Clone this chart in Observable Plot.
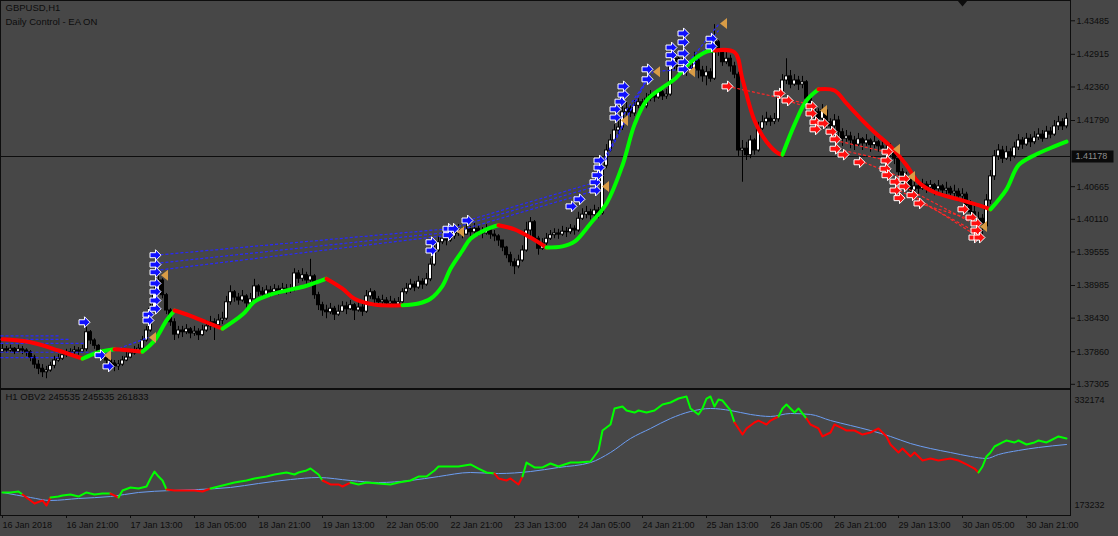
<!DOCTYPE html>
<html><head><meta charset="utf-8">
<script src="https://cdn.jsdelivr.net/npm/d3@7"></script>
<script src="https://cdn.jsdelivr.net/npm/@observablehq/plot@0.6"></script>
<style>
html,body{margin:0;padding:0;background:#474747;}
#wrap{width:1118px;height:536px;overflow:hidden;background:#474747;}
#wrap svg{display:block;}
</style></head><body><div id="wrap"></div>
<script>
// ---------- texts ----------
const symbolTitle = "GBPUSD,H1";
const eaTitle = "Daily Control - EA ON";
const obvTitle = "H1 OBV2 245535 245535 261833";
const obvMaxLabel = "332174";
const obvMinLabel = "173232";

// ---------- time axis ----------
const tickBars = [0,16,32,48,64,80,96,112,128,144,160,176,192,208,224,240,256];
const tickLabels = ["16 Jan 2018","16 Jan 21:00","17 Jan 13:00","18 Jan 05:00","18 Jan 21:00","19 Jan 13:00","22 Jan 05:00","22 Jan 21:00","23 Jan 13:00","24 Jan 05:00","24 Jan 21:00","25 Jan 13:00","26 Jan 05:00","26 Jan 21:00","29 Jan 13:00","30 Jan 05:00","30 Jan 21:00"];

// ---------- price axis ----------
const priceTicks = [1.43485,1.42915,1.42360,1.41790,1.40665,1.40110,1.39555,1.38985,1.38430,1.37860,1.37305];
const hLine = 1.41178;
const shiftBar = 240;

// ---------- candles (H1) ----------
const firstOpen = 1.3786;
const closes = [
1.3790,1.3788,1.3791,1.3786,1.3790,1.3788,1.3785,1.3776,1.3764,1.3757,
1.3751,1.3754,1.3762,1.3771,1.3774,1.3780,1.3783,1.3785,1.3788,1.3786,
1.3790,1.3819,1.3805,1.3796,1.3785,1.3778,1.3771,1.3766,1.3761,1.3764,
1.3771,1.3776,1.3783,1.3788,1.3791,1.3805,1.3822,1.3859,1.3887,1.3907,
1.3882,1.3856,1.3836,1.3815,1.3822,1.3819,1.3824,1.3817,1.3820,1.3814,
1.3822,1.3829,1.3836,1.3831,1.3839,1.3842,1.3870,1.3887,1.3878,1.3873,
1.3880,1.3868,1.3875,1.3897,1.3888,1.3883,1.3890,1.3887,1.3892,1.3888,
1.3893,1.3890,1.3892,1.3919,1.3910,1.3916,1.3907,1.3914,1.3882,1.3865,
1.3856,1.3853,1.3859,1.3849,1.3854,1.3863,1.3858,1.3865,1.3856,1.3861,
1.3854,1.3880,1.3887,1.3875,1.3870,1.3873,1.3868,1.3871,1.3866,1.3870,
1.3887,1.3893,1.3900,1.3895,1.3905,1.3900,1.3909,1.3934,1.3958,1.3972,
1.3978,1.3975,1.3982,1.3987,1.3992,1.3985,1.3994,1.3989,1.3995,1.3990,
1.3987,1.3992,1.3985,1.3982,1.3975,1.3963,1.3950,1.3938,1.3931,1.3941,
1.3958,1.3992,1.4006,1.3978,1.3961,1.3970,1.3978,1.3984,1.3987,1.3985,
1.3990,1.3989,1.3995,1.3992,1.4012,1.4019,1.4023,1.4018,1.4026,1.4021,
1.4102,1.4128,1.4145,1.4162,1.4167,1.4193,1.4199,1.4191,1.4204,1.4210,
1.4203,1.4216,1.4222,1.4218,1.4227,1.4220,1.4223,1.4271,1.4284,1.4264,
1.4272,1.4261,1.4267,1.4281,1.4264,1.4254,1.4261,1.4250,1.4312,1.4298,
1.4278,1.4284,1.4271,1.4257,1.4128,1.4131,1.4120,1.4145,1.4128,1.4165,
1.4176,1.4182,1.4177,1.4181,1.4220,1.4247,1.4254,1.4240,1.4247,1.4240,
1.4244,1.4216,1.4199,1.4193,1.4182,1.4196,1.4176,1.4169,1.4179,1.4159,
1.4148,1.4152,1.4145,1.4138,1.4147,1.4140,1.4145,1.4137,1.4142,1.4135,
1.4131,1.4125,1.4128,1.4114,1.4091,1.4074,1.4080,1.4060,1.4067,1.4063,
1.4070,1.4065,1.4069,1.4062,1.4067,1.4060,1.4063,1.4055,1.4058,1.4050,
1.4053,1.4035,1.4023,1.4009,1.4012,1.3999,1.4043,1.4084,1.4118,1.4128,
1.4114,1.4125,1.4118,1.4133,1.4145,1.4138,1.4148,1.4142,1.4150,1.4155,
1.4148,1.4160,1.4155,1.4169,1.4176,1.4169,1.4182];
const highs = [
1.3798,1.3795,1.3797,1.3793,1.3797,1.3795,1.3791,1.3788,1.3780,1.3771,
1.3764,1.3761,1.3768,1.3778,1.3781,1.3788,1.3790,1.3791,1.3795,1.3793,
1.3797,1.3831,1.3822,1.3808,1.3798,1.3788,1.3783,1.3776,1.3771,1.3771,
1.3778,1.3785,1.3790,1.3795,1.3798,1.3812,1.3829,1.3873,1.3897,1.3921,
1.3910,1.3885,1.3859,1.3842,1.3829,1.3829,1.3832,1.3827,1.3829,1.3825,
1.3831,1.3839,1.3846,1.3842,1.3849,1.3853,1.3880,1.3898,1.3890,1.3885,
1.3890,1.3883,1.3885,1.3909,1.3900,1.3895,1.3898,1.3897,1.3900,1.3898,
1.3902,1.3900,1.3900,1.3927,1.3924,1.3927,1.3921,1.3943,1.3917,1.3887,
1.3870,1.3865,1.3868,1.3863,1.3865,1.3871,1.3870,1.3873,1.3868,1.3871,
1.3866,1.3890,1.3893,1.3890,1.3880,1.3882,1.3878,1.3880,1.3876,1.3878,
1.3893,1.3902,1.3909,1.3905,1.3914,1.3910,1.3919,1.3944,1.3970,1.3982,
1.3989,1.3985,1.3990,1.3999,1.4002,1.3997,1.4002,1.3999,1.4004,1.4000,
1.3997,1.4002,1.3995,1.3992,1.3985,1.3975,1.3965,1.3955,1.3944,1.3950,
1.3966,1.4006,1.4014,1.4009,1.3982,1.3978,1.3987,1.3992,1.3995,1.3994,
1.3999,1.3997,1.4002,1.4000,1.4023,1.4029,1.4033,1.4028,1.4035,1.4031,
1.4111,1.4138,1.4155,1.4172,1.4179,1.4203,1.4210,1.4204,1.4213,1.4216,
1.4215,1.4225,1.4230,1.4228,1.4233,1.4230,1.4232,1.4281,1.4295,1.4290,
1.4284,1.4278,1.4278,1.4295,1.4284,1.4271,1.4271,1.4267,1.4342,1.4315,
1.4301,1.4295,1.4290,1.4278,1.4261,1.4145,1.4142,1.4153,1.4148,1.4176,
1.4187,1.4193,1.4187,1.4191,1.4230,1.4257,1.4284,1.4264,1.4257,1.4254,
1.4254,1.4247,1.4220,1.4206,1.4199,1.4206,1.4199,1.4182,1.4189,1.4186,
1.4165,1.4162,1.4159,1.4152,1.4157,1.4150,1.4155,1.4148,1.4152,1.4145,
1.4143,1.4138,1.4140,1.4131,1.4121,1.4097,1.4091,1.4086,1.4077,1.4074,
1.4079,1.4075,1.4077,1.4072,1.4077,1.4070,1.4074,1.4067,1.4069,1.4063,
1.4063,1.4057,1.4043,1.4033,1.4023,1.4019,1.4053,1.4094,1.4128,1.4138,
1.4135,1.4135,1.4131,1.4142,1.4155,1.4150,1.4157,1.4155,1.4160,1.4165,
1.4162,1.4169,1.4167,1.4179,1.4186,1.4182,1.4191];
const lows = [
1.3785,1.3783,1.3785,1.3781,1.3785,1.3781,1.3778,1.3769,1.3757,1.3747,
1.3742,1.3740,1.3751,1.3757,1.3768,1.3771,1.3776,1.3778,1.3781,1.3780,
1.3783,1.3786,1.3798,1.3790,1.3778,1.3771,1.3764,1.3757,1.3752,1.3754,
1.3761,1.3769,1.3774,1.3780,1.3785,1.3788,1.3802,1.3819,1.3856,1.3883,
1.3876,1.3849,1.3829,1.3805,1.3808,1.3810,1.3815,1.3808,1.3812,1.3805,
1.3812,1.3819,1.3822,1.3805,1.3829,1.3832,1.3839,1.3865,1.3870,1.3865,
1.3870,1.3859,1.3865,1.3870,1.3880,1.3876,1.3882,1.3878,1.3883,1.3882,
1.3885,1.3883,1.3885,1.3888,1.3902,1.3905,1.3898,1.3904,1.3875,1.3856,
1.3846,1.3842,1.3849,1.3839,1.3846,1.3853,1.3849,1.3856,1.3839,1.3853,
1.3846,1.3851,1.3875,1.3868,1.3863,1.3866,1.3863,1.3865,1.3861,1.3863,
1.3866,1.3883,1.3890,1.3888,1.3892,1.3892,1.3897,1.3905,1.3931,1.3955,
1.3968,1.3966,1.3972,1.3977,1.3982,1.3978,1.3984,1.3982,1.3985,1.3982,
1.3978,1.3984,1.3977,1.3973,1.3965,1.3956,1.3944,1.3931,1.3917,1.3927,
1.3938,1.3955,1.3982,1.3972,1.3950,1.3958,1.3965,1.3975,1.3978,1.3977,
1.3982,1.3980,1.3985,1.3984,1.3989,1.4009,1.4012,1.4010,1.4014,1.4012,
1.4018,1.4097,1.4125,1.4142,1.4155,1.4162,1.4187,1.4184,1.4186,1.4199,
1.4196,1.4199,1.4211,1.4210,1.4215,1.4213,1.4215,1.4220,1.4264,1.4255,
1.4261,1.4254,1.4259,1.4261,1.4250,1.4244,1.4238,1.4244,1.4247,1.4288,
1.4271,1.4274,1.4261,1.4250,1.4118,1.4074,1.4111,1.4114,1.4120,1.4125,
1.4162,1.4170,1.4169,1.4172,1.4176,1.4216,1.4240,1.4233,1.4237,1.4230,
1.4233,1.4206,1.4189,1.4182,1.4165,1.4179,1.4165,1.4159,1.4165,1.4148,
1.4135,1.4142,1.4131,1.4128,1.4135,1.4128,1.4135,1.4125,1.4131,1.4125,
1.4121,1.4114,1.4118,1.4104,1.4080,1.4060,1.4063,1.4046,1.4057,1.4053,
1.4060,1.4055,1.4058,1.4051,1.4057,1.4050,1.4053,1.4045,1.4048,1.4041,
1.4043,1.4026,1.4012,1.3999,1.3995,1.3985,1.3995,1.4036,1.4077,1.4111,
1.4106,1.4111,1.4109,1.4114,1.4128,1.4130,1.4135,1.4133,1.4138,1.4145,
1.4142,1.4147,1.4148,1.4152,1.4162,1.4162,1.4165];

// ---------- moving average (sampled at bars) ----------
const maBars = [0,7,14,20,24,28,32,35,38,41,43,47,51,55,60,63,67,71,76,81,85,88,93,100,104,107,110,112,115,117,121,124,128,132,136,140,143,147,151,155,158,161,165,168,172,176,178,183,185,188,191,194,195,198,201,204,208,211,215,218,222,226,229,233,239,244,247,251,254,258,263,266];
const maVals = [1.3807,1.3802,1.3788,1.3774,1.3785,1.3790,1.3788,1.3786,1.3805,1.3839,1.3856,1.3847,1.3836,1.3825,1.3849,1.3871,1.3883,1.3890,1.3898,1.3910,1.3893,1.3876,1.3866,1.3865,1.3868,1.3876,1.3898,1.3927,1.3958,1.3978,1.3994,1.4001,1.3994,1.3980,1.3963,1.3965,1.3973,1.4004,1.4038,1.4103,1.4172,1.4213,1.4235,1.4249,1.4278,1.4296,1.4298,1.4295,1.4249,1.4179,1.4143,1.4123,1.4121,1.4172,1.4213,1.4232,1.4230,1.4208,1.4179,1.4159,1.4135,1.4103,1.4074,1.4057,1.4045,1.4035,1.4028,1.4062,1.4103,1.4120,1.4135,1.4143];

// ---------- EA signals [bar, price] ----------
const blueArrows = [[20.5,1.3836],[24.5,1.3780],[26.5,1.3761],[36.5,1.3849],[36.5,1.3839],
[38.25,1.3950],[38.25,1.3934],[38.25,1.3921],[38.25,1.3902],[38.25,1.3888],[38.25,1.3873],[38.25,1.3859],
[107.25,1.3972],[107.25,1.3958],[111.5,1.3995],[111.5,1.3984],[112.75,1.3995],[116.25,1.4009],
[142.25,1.4033],[144.25,1.4045],[148.25,1.4060],[148.25,1.4074],[148.75,1.4086],[149.25,1.4099],[149.25,1.4111],
[153.25,1.4184],[153.25,1.4198],[154.5,1.4211],[155.25,1.4223],[155.25,1.4237],[161.25,1.4249],[161.25,1.4266],
[167.25,1.4303],[167.25,1.4290],[167.25,1.4276],[170.25,1.4327],[170.25,1.4312],[170.25,1.4293],[170.25,1.4278],[170.25,1.4266],
[177.25,1.4318],[177.25,1.4305]];
const redArrows = [[181.25,1.4237],[194.25,1.4225],[196.25,1.4213],[202.25,1.4203],[202.25,1.4191],[203.25,1.4176],[203.25,1.4164],
[205.25,1.4174],[207.25,1.4160],[208.25,1.4147],[208.25,1.4131],[210.25,1.4121],[214.25,1.4108],
[221.25,1.4126],[221,1.4111],[220.75,1.4097],[221.25,1.4086],[223.25,1.4075],[223.25,1.4060],[224.25,1.4047],
[225.5,1.4080],[225.5,1.4067],[227.5,1.4052],[229.25,1.4038],
[240.25,1.4028],[242.25,1.4014],[243.5,1.4004],[243.5,1.3992],[243,1.3980],[244.25,1.3980]];
const exitMarks = [[25.25,1.3780],[36.5,1.3810],[39.5,1.3916],[113.5,1.3990],[149.75,1.4067],[154.5,1.4179],[162.5,1.4262],
[171.25,1.4262],[179.25,1.4344],[204.25,1.4196],[222.5,1.4130],[226.25,1.4084],[244.25,1.3999]];
const blueLinks = [[-0.5,1.3813,14.5,1.3813],[-0.5,1.3807,17,1.3807],[-0.5,1.3800,20.75,1.3800],[-0.5,1.3785,24.5,1.3785],[-0.5,1.3776,14.5,1.3776],
[24.5,1.3780,36.5,1.3810],
[38.25,1.3950,111.5,1.3995],[38.25,1.3936,111.5,1.3989],[38.25,1.3924,111.5,1.3984],
[111.5,1.3994,148.25,1.4067],[112.75,1.3989,148.25,1.4060],[116.25,1.4009,148.25,1.4074],
[149.25,1.4099,161.25,1.4249],[150.75,1.4111,162,1.4264],[154.5,1.4182,162.5,1.4261],
[162.5,1.4262,170.25,1.4266],[171.5,1.4278,179,1.4342],[172,1.4267,179,1.4332]];
const redLinks = [[181.25,1.4237,202.25,1.4206],[196.25,1.4213,202.25,1.4199],[208.25,1.4145,221.25,1.4125],
[210.25,1.4128,221.25,1.4111],[214.25,1.4111,225.5,1.4080],[223.25,1.4074,243.5,1.4001],
[224.25,1.4060,243.5,1.3989],[227.5,1.4052,244.25,1.3980],[229.25,1.4038,242.25,1.4011]];

// ---------- OBV sub-window ----------
const obvBars = [0,2,4,5,7,8,10,11,12,14,15,17,19,21,23,25,27,29,30,32,34,36,37,38,39,40,41,43,46,48,50,52,54,56,58,61,63,66,68,71,73,74,76,77,79,80,82,84,85,87,89,91,94,97,99,102,104,106,108,109,112,114,117,119,121,123,124,126,127,129,130,131,133,135,137,139,142,144,147,149,150,152,153,155,156,158,159,161,163,165,167,169,171,172,174,175,176,177,178,179,180,182,183,185,186,188,189,191,192,194,195,196,198,199,201,202,204,205,207,208,210,211,213,215,217,219,221,222,224,225,227,228,230,232,234,237,239,241,243,244,245,246,247,248,250,251,253,254,256,258,259,261,262,264,266];
const obvVals = [197300,197300,198600,194600,186600,182600,186600,179900,190600,191900,193300,194600,191900,197300,194600,195900,195900,190600,199900,204000,202600,205300,216000,225300,218600,213300,201300,199900,199900,199900,198600,202600,205300,208000,210600,213300,216000,218600,221300,224000,221300,224000,226700,229300,221300,213300,208000,208000,205300,210600,208000,210600,209300,208000,210600,213300,218600,218600,226700,232000,232000,232000,234700,229300,224000,222600,216000,213300,216000,208000,218600,237300,230700,230700,236000,232000,237300,237300,238700,253400,280100,288100,309500,312100,306800,304100,306800,304100,306800,314800,317500,322800,325500,309500,301500,309500,322800,325500,312100,321500,320100,306800,290800,274700,282800,290800,293400,288100,293400,298800,309500,314800,304100,309500,296100,288100,282800,272100,277400,288100,282800,280100,280100,274700,277400,282800,272100,261400,250700,256000,245400,250700,240000,242700,240000,242700,240000,234700,229300,224000,232000,245400,250700,258700,264100,266700,264100,266700,261400,264100,266700,264100,266700,272100,269400];
const obvGreenRuns = [[0,5],[12,26],[29,41],[52,80],[88,123],[130,183],[194,201],[244,266]];
const sigBars = [0,7,12,19,27,34,42,49,57,64,72,79,87,94,102,109,117,124,132,139,147,152,157,162,167,172,177,182,187,192,197,202,207,212,217,222,227,232,237,242,246,249,254,259,266];
const sigVals = [197300,190600,186600,189300,191900,197300,199900,201300,204000,209300,214600,217300,213300,210600,213300,218600,224000,222600,225300,230700,237300,250700,269400,282800,296100,305500,309500,306800,301500,298800,302800,301500,293400,286800,280100,272100,262700,256000,250700,245400,242700,248000,253400,257400,261400];

// ---------- build ----------
const BG = "#474747", INK = "#0d0d0d", GREEN = "#00ff00", RED = "#ff0000";
const FONT = "'Liberation Sans', Arial, sans-serif";

const bars = closes.map((c, k) => {
  const o = k ? closes[k - 1] : firstOpen;
  return {i: k, open: o, close: c, high: Math.max(highs[k], o, c), low: Math.min(lows[k], o, c)};
});

function colouredRuns(pts, upFn) {
  const out = []; let run = -1, prev = null;
  for (let k = 0; k < pts.length - 1; k++) {
    const up = upFn(pts[k], pts[k + 1]);
    if (up !== prev) { run++; prev = up; out.push({...pts[k], run, up}); }
    out.push({...pts[k + 1], run, up});
  }
  return out;
}
const maPts = maBars.map((b, k) => ({i: b, v: maVals[k]}));
const maSegs = colouredRuns(maPts, (a, b) => b.v >= a.v);
const obvPts = obvBars.map((b, k) => ({i: b, v: obvVals[k]}));
const inGreen = m => obvGreenRuns.some(([a, b]) => m >= a && m <= b);
const obvSegs = colouredRuns(obvPts, (a, b) => inGreen((a.i + b.i) / 2));
const sigPts = sigBars.map((b, k) => ({i: b, v: sigVals[k]}));
const tickText = new Map(tickBars.map((b, k) => [b, tickLabels[k]]));

const arrowSym = {draw(c) { c.moveTo(-5.5,-2.5); c.lineTo(0,-2.5); c.lineTo(0,-5.5); c.lineTo(5.5,0); c.lineTo(0,5.5); c.lineTo(0,2.5); c.lineTo(-5.5,2.5); c.closePath(); }};
const triLeft = {draw(c) { c.moveTo(3.5,-5.5); c.lineTo(3.5,5.5); c.lineTo(-3.5,0); c.closePath(); }};
const triDown = {draw(c) { c.moveTo(-5,-3); c.lineTo(5,-3); c.lineTo(0,3); c.closePath(); }};
const boxSym = {draw(c) { c.rect(-21,-6,42,12); }};

const xDom = [-0.5, 267];
const styleBase = {background: BG, color: INK, fontFamily: FONT, fontSize: "9px", overflow: "visible"};

const main = Plot.plot({
  width: 1118, height: 388,
  marginLeft: 0, marginRight: 48, marginTop: 0, marginBottom: 0,
  style: styleBase,
  x: {domain: xDom, axis: null, label: null},
  y: {domain: [1.37234, 1.4383], axis: null, label: null},
  marks: [
    Plot.frame({stroke: INK}),
    Plot.ruleY([hLine], {stroke: INK}),
    Plot.ruleX(bars, {x: "i", y1: "low", y2: "high", stroke: "#000"}),
    Plot.rect(bars, {x1: d => d.i - 0.375, x2: d => d.i + 0.375, y1: "open", y2: "close",
      fill: d => d.close > d.open ? "#ffffff" : "#000000", stroke: "#000", strokeWidth: 1}),
    Plot.link(blueLinks, {x1: d => d[0], y1: d => d[1], x2: d => d[2], y2: d => d[3], stroke: "#2828ff", strokeDasharray: "3,2", strokeWidth: 1.2}),
    Plot.link(redLinks, {x1: d => d[0], y1: d => d[1], x2: d => d[2], y2: d => d[3], stroke: "#ff2828", strokeDasharray: "3,2", strokeWidth: 1.2}),
    Plot.line(maSegs, {x: "i", y: "v", z: "run", stroke: d => d.up ? GREEN : RED, strokeWidth: 4, curve: "catmull-rom", strokeLinecap: "round"}),
    Plot.dot(blueArrows, {x: d => d[0], y: d => d[1], symbol: arrowSym, r: 5, fill: "#1010ff", stroke: "#ffffff", strokeWidth: 1}),
    Plot.dot(redArrows, {x: d => d[0], y: d => d[1], symbol: arrowSym, r: 5, fill: "#ff1010", stroke: "#ffffff", strokeWidth: 1}),
    Plot.dot(exitMarks, {x: d => d[0] + 1, y: d => d[1], symbol: triLeft, r: 5, fill: "#d99c46", stroke: "none"}),
    Plot.dot([shiftBar], {x: d => d, frameAnchor: "top", dy: 3, symbol: triDown, r: 5, fill: INK, stroke: "none"}),
    Plot.axisY(priceTicks, {anchor: "right", label: null, tickSize: 4, tickPadding: 2, tickFormat: d => d.toFixed(5), fontSize: 9, fill: INK}),
    Plot.dot([hLine], {y: d => d, frameAnchor: "right", dx: 22, symbol: boxSym, r: 5, fill: "#0b0b0b", stroke: "none"}),
    Plot.text([hLine], {y: d => d, frameAnchor: "right", dx: 5, textAnchor: "start", text: d => d.toFixed(5), fill: "#8e8e8e", fontSize: 9}),
    Plot.text([symbolTitle], {frameAnchor: "top-left", dx: 5, dy: 4, textAnchor: "start", lineAnchor: "top", fontSize: 9.5, fill: INK}),
    Plot.text([eaTitle], {frameAnchor: "top-left", dx: 5, dy: 18, textAnchor: "start", lineAnchor: "top", fontSize: 9.5, fill: INK})
  ]
});

const sub = Plot.plot({
  width: 1118, height: 148,
  marginLeft: 0, marginRight: 48, marginTop: 1, marginBottom: 21,
  style: styleBase,
  x: {domain: xDom, axis: null, label: null},
  y: {domain: [166554, 334845], axis: null, label: null},
  marks: [
    Plot.frame({stroke: INK}),
    Plot.line(sigPts, {x: "i", y: "v", stroke: "#6c9df2", strokeWidth: 1, curve: "monotone-x"}),
    Plot.line(obvSegs, {x: "i", y: "v", z: "run", stroke: d => d.up ? GREEN : RED, strokeWidth: 2}),
    Plot.axisX(tickBars, {anchor: "bottom", label: null, tickSize: 3, tickPadding: 3, textAnchor: "start", tickFormat: d => tickText.get(d), fontSize: 9, fill: INK}),
    Plot.text([obvTitle], {frameAnchor: "top-left", dx: 5, dy: 4, textAnchor: "start", lineAnchor: "top", fontSize: 9.5, fill: INK}),
    Plot.text([obvMaxLabel], {frameAnchor: "top-right", dx: 4, dy: 7, textAnchor: "start", fontSize: 9, fill: INK}),
    Plot.text([obvMinLabel], {frameAnchor: "bottom-right", dx: 4, dy: -8, textAnchor: "start", fontSize: 9, fill: INK})
  ]
});

const wrap = document.getElementById("wrap");
wrap.appendChild(main);
wrap.appendChild(sub);
</script></body></html>
